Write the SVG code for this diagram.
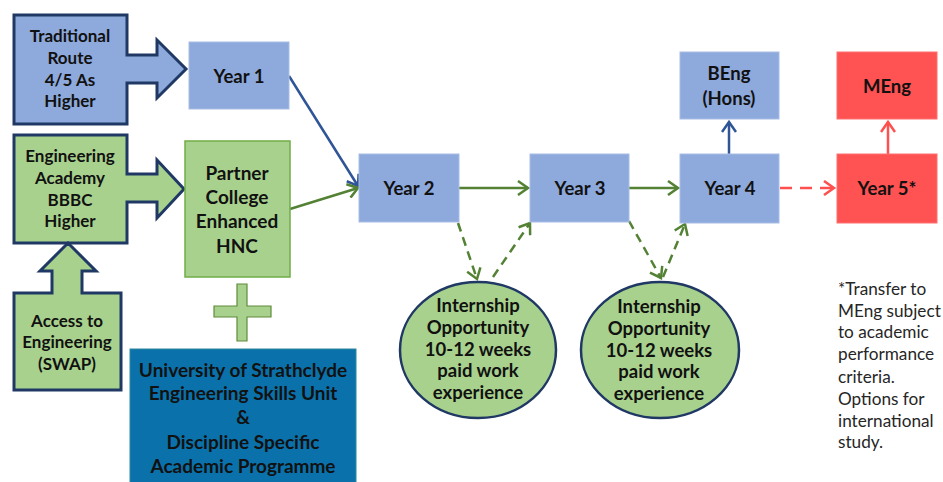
<svg xmlns="http://www.w3.org/2000/svg" width="943" height="482" viewBox="0 0 943 482">
<style>
text{font-family:Lato,"Liberation Sans",sans-serif;font-weight:bold;fill:#111;text-anchor:middle;}
.blk{stroke:#1F3864;stroke-width:3;stroke-linejoin:miter;}
.bl{fill:#8EA9DB;stroke:#A9BDE6;stroke-width:1;}
.gr{fill:#A9D18E;}
.rd{fill:#FF5252;stroke:#FF7070;stroke-width:1;}
.f19{font-size:19px;}
.f18{font-size:18.5px;}
.f17{font-size:18.5px;}
.f16{font-size:17px;}
.note{font-weight:normal;text-anchor:start;fill:#262626;font-size:17.2px;}
.cb{stroke:#2F5597;stroke-width:2.5;fill:none;}
.cg{stroke:#548235;stroke-width:2.5;fill:none;}
.cr{stroke:#FF5050;stroke-width:2.5;fill:none;}
</style>
<defs>
<marker id="ab" markerUnits="userSpaceOnUse" markerWidth="14" markerHeight="16" refX="11" refY="8" orient="auto"><path d="M1,1 L11,8 L1,15" fill="none" stroke="#2F5597" stroke-width="2.5"/></marker>
<marker id="ag" markerUnits="userSpaceOnUse" markerWidth="14" markerHeight="16" refX="11" refY="8" orient="auto"><path d="M1,1 L11,8 L1,15" fill="none" stroke="#548235" stroke-width="2.5"/></marker>
<marker id="ar" markerUnits="userSpaceOnUse" markerWidth="14" markerHeight="16" refX="11" refY="8" orient="auto"><path d="M1,1 L11,8 L1,15" fill="none" stroke="#FF5050" stroke-width="2.5"/></marker>
</defs>

<g id="connectors">
<line class="cb" x1="289" y1="76" x2="358" y2="186" marker-end="url(#ab)"/>
<line class="cg" x1="290" y1="209" x2="358" y2="188" marker-end="url(#ag)"/>
<line class="cg" x1="459" y1="188" x2="528" y2="188" marker-end="url(#ag)"/>
<line class="cg" x1="629" y1="188" x2="678" y2="188" marker-end="url(#ag)"/>
<line class="cg" x1="458" y1="223" x2="477" y2="279" stroke-dasharray="9,6" marker-end="url(#ag)"/>
<line class="cg" x1="493" y1="277" x2="530" y2="223" stroke-dasharray="9,6" marker-end="url(#ag)"/>
<line class="cg" x1="629" y1="221" x2="661" y2="278" stroke-dasharray="9,6" marker-end="url(#ag)"/>
<line class="cg" x1="663" y1="277" x2="685" y2="224" stroke-dasharray="9,6" marker-end="url(#ag)"/>
<line class="cb" x1="729" y1="154" x2="729" y2="122" marker-end="url(#ab)"/>
<line class="cr" x1="888" y1="154" x2="888" y2="122" marker-end="url(#ar)"/>
<line class="cr" x1="780" y1="188" x2="834" y2="188" stroke-dasharray="12,8" marker-end="url(#ar)"/>
</g>

<g id="traditional">
<polygon class="blk" fill="#8EA9DB" points="14,15 127,15 127,55 157,55 157,40 186,69 157,98 157,83 127,83 127,124 14,124"/>
<text class="f16" x="70" y="42">Traditional</text>
<text class="f16" x="70" y="64">Route</text>
<text class="f16" x="70" y="86">4/5 As</text>
<text class="f16" x="70" y="107">Higher</text>
</g>

<g id="academy">
<polygon class="blk" fill="#A9D18E" points="14,135 127,135 127,174 157,174 157,160 184,189 157,218 157,202 127,202 127,243 14,243"/>
<text class="f16" x="70" y="162">Engineering</text>
<text class="f16" x="70" y="184">Academy</text>
<text class="f16" x="70" y="206">BBBC</text>
<text class="f16" x="70" y="227">Higher</text>
</g>

<g id="access">
<polygon class="blk" fill="#A9D18E" points="14,390 14,293 52,293 52,271 40,271 68,243 96,271 82,271 82,293 121,293 121,390"/>
<text class="f16" x="67" y="327">Access to</text>
<text class="f16" x="67" y="348">Engineering</text>
<text class="f16" x="67" y="370">(SWAP)</text>
</g>

<g id="year1">
<rect class="bl" x="189" y="42" width="100" height="67"/>
<text class="f18" x="239" y="83">Year 1</text>
</g>

<g id="partner">
<rect class="gr" x="185" y="141" width="105" height="136" stroke="#70AD47" stroke-width="1.5"/>
<text class="f19" x="237" y="180">Partner</text>
<text class="f19" x="237" y="204">College</text>
<text class="f19" x="237" y="228">Enhanced</text>
<text class="f19" x="237" y="253">HNC</text>
</g>

<g id="plus">
<path d="M237,284 H247 V306 H271 V317 H247 V341 H237 V317 H214 V306 H237 Z" fill="#A9D18E" stroke="#5E8C3A" stroke-width="1.2"/>
</g>

<g id="strathclyde">
<rect x="130" y="349" width="226" height="140" fill="#0B71AB" stroke="#2E8A9E" stroke-width="1"/>
<text class="f19" x="243" y="377">University of Strathclyde</text>
<text class="f19" x="243" y="400">Engineering Skills Unit</text>
<text class="f19" x="243" y="424">&amp;</text>
<text class="f19" x="243" y="449">Discipline Specific</text>
<text class="f19" x="243" y="473">Academic Programme</text>
</g>

<g id="year2">
<rect class="bl" x="359" y="154" width="100" height="68"/>
<text class="f18" x="409" y="195">Year 2</text>
</g>

<g id="year3">
<rect class="bl" x="530" y="154" width="99" height="68"/>
<text class="f18" x="580" y="195">Year 3</text>
</g>

<g id="year4">
<rect class="bl" x="680" y="154" width="99" height="69"/>
<text class="f18" x="730" y="195">Year 4</text>
</g>

<g id="beng">
<rect class="bl" x="680" y="52" width="99" height="67"/>
<text class="f18" x="729" y="80">BEng</text>
<text class="f18" x="729" y="105">(Hons)</text>
</g>

<g id="year5">
<rect class="rd" x="837" y="154" width="100" height="69"/>
<text class="f18" x="887" y="195">Year 5*</text>
</g>

<g id="meng">
<rect class="rd" x="837" y="52" width="100" height="67"/>
<text class="f18" x="887" y="93">MEng</text>
</g>

<g id="internship1">
<ellipse cx="478" cy="350" rx="78" ry="68" fill="#A9D18E" stroke="#1F3864" stroke-width="2.5"/>
<text class="f17" x="478" y="312">Internship</text>
<text class="f17" x="478" y="334">Opportunity</text>
<text class="f17" x="478" y="356">10-12 weeks</text>
<text class="f17" x="478" y="377">paid work</text>
<text class="f17" x="478" y="399">experience</text>
</g>

<g id="internship2">
<ellipse cx="660" cy="350" rx="79" ry="68" fill="#A9D18E" stroke="#1F3864" stroke-width="2.5"/>
<text class="f17" x="659" y="313">Internship</text>
<text class="f17" x="659" y="335">Opportunity</text>
<text class="f17" x="659" y="357">10-12 weeks</text>
<text class="f17" x="659" y="378">paid work</text>
<text class="f17" x="659" y="400">experience</text>
</g>

<g id="note">
<text class="note" x="838" y="295">*Transfer to</text>
<text class="note" x="838" y="317">MEng subject</text>
<text class="note" x="838" y="338">to academic</text>
<text class="note" x="838" y="360">performance</text>
<text class="note" x="838" y="383">criteria.</text>
<text class="note" x="838" y="405">Options for</text>
<text class="note" x="838" y="427">international</text>
<text class="note" x="838" y="448">study.</text>
</g>
</svg>
